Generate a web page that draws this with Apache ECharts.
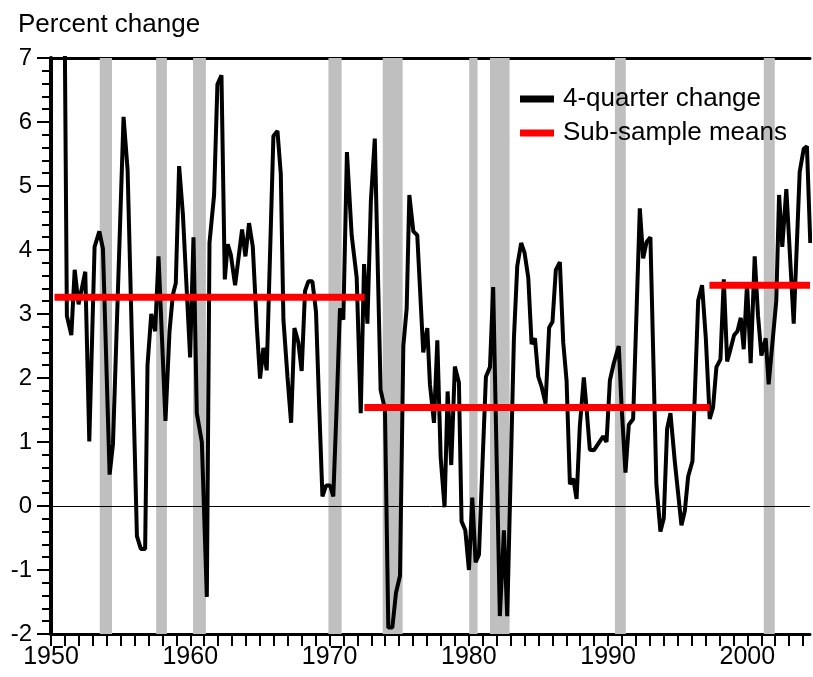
<!DOCTYPE html>
<html>
<head>
<meta charset="utf-8">
<title>Percent change</title>
<script src="https://cdn.jsdelivr.net/npm/echarts@6/dist/echarts.min.js"></script>
<style>
  html, body { margin: 0; padding: 0; background: #fff; }
  #chart { width: 813px; height: 677px; }
</style>
</head>
<body>
<div id="chart"></div>
<script>
// 4-quarter change (decimal year, percent)
var quarters = [
  1950.89, 1951.14, 1951.46, 1951.70, 1951.98, 1952.46, 1952.75, 1953.13, 1953.47, 1953.73,
  1954.21, 1954.45, 1955.21, 1955.50, 1956.17, 1956.45, 1956.76, 1956.93, 1957.20, 1957.48,
  1957.72, 1958.22, 1958.51, 1958.75, 1958.96, 1959.20, 1959.47, 1959.99, 1960.23, 1960.47,
  1960.83, 1961.19, 1961.38, 1961.71, 1961.95, 1962.24, 1962.48, 1962.69, 1962.91, 1963.22,
  1963.72, 1963.96, 1964.22, 1964.49, 1964.78, 1965.01, 1965.25, 1965.49, 1965.97, 1966.26,
  1966.50, 1966.69, 1966.98, 1967.24, 1967.48, 1967.76, 1968.00, 1968.24, 1968.48, 1968.77,
  1969.03, 1969.25, 1969.49, 1969.75, 1970.04, 1970.27, 1970.51, 1970.75, 1970.99, 1971.25,
  1971.59, 1971.95, 1972.24, 1972.48, 1972.72, 1972.97, 1973.25, 1973.67, 1973.98, 1974.22,
  1974.51, 1974.77, 1975.06, 1975.30, 1975.54, 1975.73, 1976.02, 1976.30, 1976.73, 1977.02,
  1977.21, 1977.50, 1977.74, 1977.98, 1978.26, 1978.48, 1978.74, 1979.00, 1979.29, 1979.48,
  1979.75, 1980.01, 1980.25, 1980.49, 1980.73, 1980.99, 1981.23, 1981.52, 1981.75, 1982.23,
  1982.52, 1982.76, 1983.24, 1983.48, 1983.76, 1984.00, 1984.27, 1984.51, 1984.75, 1984.99,
  1985.22, 1985.51, 1985.77, 1986.01, 1986.25, 1986.54, 1986.78, 1987.02, 1987.26, 1987.50,
  1987.74, 1987.97, 1988.26, 1988.45, 1988.69, 1988.98, 1989.29, 1989.65, 1989.89, 1990.13,
  1990.41, 1990.77, 1990.96, 1991.25, 1991.49, 1991.80, 1992.28, 1992.52, 1992.76, 1993.04,
  1993.47, 1993.76, 1994.00, 1994.24, 1994.48, 1994.79, 1995.27, 1995.51, 1995.75, 1996.06,
  1996.47, 1996.75, 1997.02, 1997.30, 1997.54, 1997.78, 1998.07, 1998.31, 1998.55, 1998.78,
  1999.05, 1999.29, 1999.53, 1999.74, 1999.98, 2000.24, 2000.53, 2000.77, 2001.01, 2001.32,
  2001.53, 2002.08, 2002.28, 2002.51, 2002.80, 2003.33, 2003.76, 2004.05, 2004.28, 2004.52
];
var change = [
  10.2, 2.97, 2.67, 3.69, 3.15, 3.66, 1.01, 4.05, 4.29, 4.02,
  0.49, 0.97, 6.08, 5.25, -0.47, -0.67, -0.67, 2.20, 3.00, 2.73,
  3.90, 1.33, 2.73, 3.30, 3.48, 5.31, 4.56, 2.32, 4.20, 1.45,
  1.00, -1.42, 4.11, 4.86, 6.59, 6.73, 3.54, 4.09, 3.93, 3.45,
  4.32, 3.90, 4.42, 4.05, 2.80, 1.99, 2.47, 2.12, 5.78, 5.86,
  5.19, 2.91, 2.02, 1.30, 2.78, 2.56, 2.11, 3.36, 3.51, 3.51,
  3.03, 1.60, 0.15, 0.32, 0.32, 0.15, 1.54, 3.09, 2.91, 5.53,
  4.23, 3.57, 1.45, 3.78, 2.85, 4.77, 5.74, 1.81, 1.51, -1.90,
  -1.90, -1.36, -1.09, 2.50, 3.09, 4.86, 4.29, 4.23, 2.40, 2.78,
  1.90, 1.30, 2.59, 0.76, -0.02, 1.79, 0.64, 2.18, 1.93, -0.24,
  -0.38, -1.00, 0.13, -0.88, -0.76, 0.70, 2.02, 2.17, 3.42, -1.72,
  -0.38, -1.72, 2.62, 3.75, 4.11, 3.96, 3.57, 2.53, 2.62, 2.02,
  1.87, 1.60, 2.79, 2.88, 3.69, 3.81, 2.56, 1.96, 0.34, 0.43,
  0.11, 1.24, 2.01, 1.54, 0.88, 0.87, 0.97, 1.09, 1.00, 1.96,
  2.23, 2.50, 1.60, 0.52, 1.27, 1.36, 4.65, 3.87, 4.12, 4.20,
  0.34, -0.40, -0.19, 1.21, 1.45, 0.70, -0.30, -0.08, 0.46, 0.70,
  3.21, 3.45, 2.62, 1.36, 1.54, 2.17, 2.29, 3.54, 2.26, 2.44,
  2.67, 2.73, 2.94, 2.45, 3.48, 2.23, 3.90, 2.97, 2.35, 2.62,
  1.90, 3.21, 4.86, 4.05, 4.95, 2.85, 5.22, 5.58, 5.62, 4.11
];

// recession shading
var recessionStart = [1953.5, 1957.55, 1960.2, 1969.92, 1973.82, 1980.03, 1981.52, 1990.49, 2001.18];
var recessionEnd = [1954.38, 1958.32, 1961.12, 1970.87, 1975.25, 1980.63, 1982.93, 1991.27, 2001.97];

// sub-sample means
var meanStart = [1950.25, 1972.5, 1997.28];
var meanEnd = [1972.52, 1997.3, 2004.5];
var meanValue = [3.26, 1.54, 3.45];

var xTickLabels = [1950, 1960, 1970, 1980, 1990, 2000];
var yTickLabels = [-2, -1, 0, 1, 2, 3, 4, 5, 6, 7];

var font = 'Liberation Sans, Arial, sans-serif';

var chart = echarts.init(document.getElementById('chart'));

var yearTicks = [];
for (var y = 1950; y <= 2004; y++) {
  yearTicks.push(y);
}

var meanSeries = meanValue.map(function(v, i) {
  return {
    name: 'Sub-sample means',
    type: 'line',
    z: 4,
    symbol: 'none',
    lineStyle: { color: '#ff0000', width: 7, cap: 'butt' },
    itemStyle: { color: '#ff0000' },
    data: [[meanStart[i], v], [meanEnd[i], v]]
  }
})

chart.setOption({
  animation: false,
  backgroundColor: '#fff',
  title: {
    text: 'Percent change',
    left: 13,
    top: 7,
    textStyle: { fontFamily: font, fontSize: 26, fontWeight: 'normal', color: '#000' }
  },
  legend: {
    orient: 'vertical',
    left: 515,
    top: 81,
    itemWidth: 34,
    itemHeight: 7,
    itemGap: 8,
    data: [
      { name: '4-quarter change', icon: 'rect' },
      { name: 'Sub-sample means', icon: 'rect' }
    ],
    textStyle: { fontFamily: font, fontSize: 26, color: '#000', padding: [0, 0, 0, 4] }
  },
  grid: {
    left: 51,
    right: 3,
    top: 58,
    bottom: 43
  },
  xAxis: [{
    type: 'value',
    min: 1950,
    max: 2004.5,
    splitLine: { show: false },
    axisLine: { onZero: false, lineStyle: { color: '#000', width: 3 } },
    axisTick: { customValues: yearTicks, length: 12, lineStyle: { color: '#000', width: 2 } },
    axisLabel: {
      customValues: xTickLabels,
      formatter: function(v) { return String(v) },
      margin: 11,
      color: '#000',
      fontSize: 25,
      fontFamily: font
    }
  }, {
    type: 'value',
    position: 'top',
    min: 1950,
    max: 2004.5,
    splitLine: { show: false },
    axisLine: { onZero: false, lineStyle: { color: '#000', width: 3 } },
    axisTick: { show: false },
    axisLabel: { show: false }
  }],
  yAxis: {
    type: 'value',
    min: -2,
    max: 7,
    interval: 1,
    splitLine: { show: false },
    axisLine: { show: true, lineStyle: { color: '#000', width: 4 } },
    axisTick: { length: 14, lineStyle: { color: '#000', width: 2 } },
    minorTick: { show: true, splitNumber: 5, length: 9, lineStyle: { color: '#000', width: 2 } },
    axisLabel: {
      customValues: yTickLabels,
      margin: 19,
      color: '#000',
      fontSize: 24,
      fontFamily: font
    }
  },
  series: [{
    name: 'recessions',
    type: 'line',
    z: 1,
    data: [],
    markArea: {
      silent: true,
      itemStyle: { color: '#bfbfbf' },
      data: recessionStart.map(function(s, i) {
        return [{ xAxis: s }, { xAxis: recessionEnd[i] }]
      })
    }
  }, {
    name: '4-quarter change',
    type: 'line',
    z: 3,
    symbol: 'none',
    clip: true,
    lineStyle: { color: '#000', width: 4 },
    itemStyle: { color: '#000' },
    data: quarters.map(function(q, i) { return [q, change[i]] }),
    markLine: {
      silent: true,
      symbol: ['none', 'none'],
      label: { show: false },
      lineStyle: { color: '#000', width: 1, type: 'solid' },
      data: [{ yAxis: 0 }]
    }
  }].concat(meanSeries)
})
</script>
</body>
</html>
